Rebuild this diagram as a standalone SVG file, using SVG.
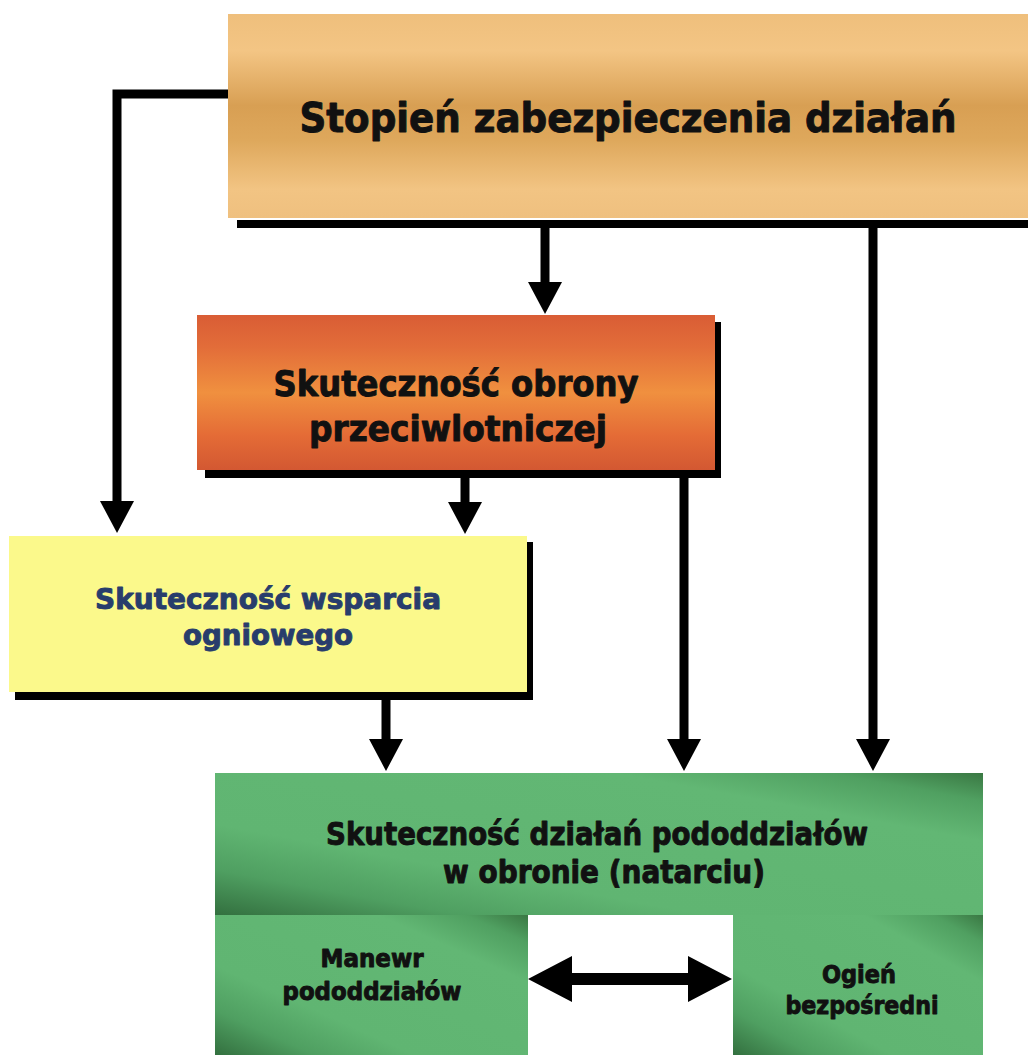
<svg xmlns="http://www.w3.org/2000/svg" width="1028" height="1055" viewBox="0 0 1028 1055">
  <style>
    .lbl { font-family: "DejaVu Sans Condensed", "DejaVu Sans", "Liberation Sans", sans-serif; font-weight: bold; text-anchor: middle; fill: #111; stroke: #111; stroke-width: 0.9; stroke-linejoin: round; }
    .blue { fill: #283d6c; stroke: #283d6c; }
    .wire { fill: none; stroke: #000; stroke-width: 9; stroke-linejoin: miter; stroke-linecap: butt; }
    .shadow { fill: #000; }
  </style>
  <defs>
    <linearGradient id="gTan" x1="0" y1="0" x2="0" y2="1">
      <stop offset="0" stop-color="#efbf7c"/>
      <stop offset="0.18" stop-color="#f3c584"/>
      <stop offset="0.45" stop-color="#d89f53"/>
      <stop offset="0.62" stop-color="#dea85c"/>
      <stop offset="0.86" stop-color="#f2c483"/>
      <stop offset="1" stop-color="#efc07f"/>
    </linearGradient>
    <linearGradient id="gOrange" x1="0" y1="0" x2="0" y2="1">
      <stop offset="0" stop-color="#d95d35"/>
      <stop offset="0.2" stop-color="#e26c39"/>
      <stop offset="0.5" stop-color="#f0903f"/>
      <stop offset="0.78" stop-color="#e46b36"/>
      <stop offset="1" stop-color="#d35832"/>
    </linearGradient>
    <linearGradient id="gGreen" x1="0" y1="1" x2="1" y2="0">
      <stop offset="0" stop-color="#33703f"/>
      <stop offset="0.16" stop-color="#4f9f61"/>
      <stop offset="0.32" stop-color="#60b572"/>
      <stop offset="0.76" stop-color="#62b774"/>
      <stop offset="0.9" stop-color="#50a061"/>
      <stop offset="1" stop-color="#3a7843"/>
    </linearGradient>
    <marker id="head" markerUnits="userSpaceOnUse" markerWidth="32" markerHeight="34" viewBox="0 0 32 34" refX="0" refY="17" orient="auto">
      <path d="M0,0 L32,17 L0,34 Z" fill="#000"/>
    </marker>
  </defs>

  <rect width="1028" height="1055" fill="#fff"/>

  <!-- top: degree of support -->
  <g id="node-stopien">
    <rect class="shadow" x="237" y="220" width="791" height="8"/>
    <rect x="228" y="14" width="800" height="204" fill="url(#gTan)"/>
    <text class="lbl" x="628" y="132" font-size="41" textLength="657" lengthAdjust="spacingAndGlyphs">Stopień zabezpieczenia działań</text>
  </g>

  <!-- air defence -->
  <g id="node-opl">
    <rect class="shadow" x="205" y="322" width="516" height="156"/>
    <rect x="197" y="315" width="518" height="155" fill="url(#gOrange)"/>
    <text class="lbl" x="456" y="396" font-size="35" textLength="365" lengthAdjust="spacingAndGlyphs">Skuteczność obrony</text>
    <text class="lbl" x="458" y="441" font-size="35" textLength="298" lengthAdjust="spacingAndGlyphs">przeciwlotniczej</text>
  </g>

  <!-- fire support -->
  <g id="node-wsparcie">
    <rect class="shadow" x="15" y="542" width="518" height="158"/>
    <rect x="9" y="536" width="518" height="156" fill="#fbf98b"/>
    <text class="lbl blue" x="268" y="609" font-size="29" textLength="346" lengthAdjust="spacingAndGlyphs">Skuteczność wsparcia</text>
    <text class="lbl blue" x="268" y="645" font-size="29" textLength="170" lengthAdjust="spacingAndGlyphs">ogniowego</text>
  </g>

  <!-- sub-unit effectiveness -->
  <g id="node-dzialania">
    <rect x="215" y="773" width="768" height="142" fill="url(#gGreen)"/>
    <text class="lbl" x="597" y="845" font-size="32" textLength="542" lengthAdjust="spacingAndGlyphs">Skuteczność działań pododdziałów</text>
    <text class="lbl" x="604" y="883" font-size="32" textLength="322" lengthAdjust="spacingAndGlyphs">w obronie (natarciu)</text>
  </g>

  <g id="node-manewr">
    <rect x="215" y="915" width="313" height="140" fill="url(#gGreen)"/>
    <text class="lbl" x="372" y="967" font-size="25" textLength="103" lengthAdjust="spacingAndGlyphs">Manewr</text>
    <text class="lbl" x="372" y="1000" font-size="25" textLength="179" lengthAdjust="spacingAndGlyphs">pododdziałów</text>
  </g>

  <g id="node-ogien">
    <rect x="733" y="915" width="250" height="140" fill="url(#gGreen)"/>
    <text class="lbl" x="859" y="983" font-size="25" textLength="74" lengthAdjust="spacingAndGlyphs">Ogień</text>
    <text class="lbl" x="862" y="1014" font-size="25" textLength="153" lengthAdjust="spacingAndGlyphs">bezpośredni</text>
  </g>

  <!-- connectors -->
  <g id="connectors">
    <path class="wire" d="M228,94 H117 V501" marker-end="url(#head)"/>
    <path class="wire" d="M545,227 V282" marker-end="url(#head)"/>
    <path class="wire" d="M873,227 V739" marker-end="url(#head)"/>
    <path class="wire" d="M465,478 V502" marker-end="url(#head)"/>
    <path class="wire" d="M684,478 V739" marker-end="url(#head)"/>
    <path class="wire" d="M386,700 V739" marker-end="url(#head)"/>
    <polygon points="528,979 572,956 572,973 688,973 688,956 732,979 688,1002 688,985 572,985 572,1002" fill="#000"/>
  </g>
</svg>
